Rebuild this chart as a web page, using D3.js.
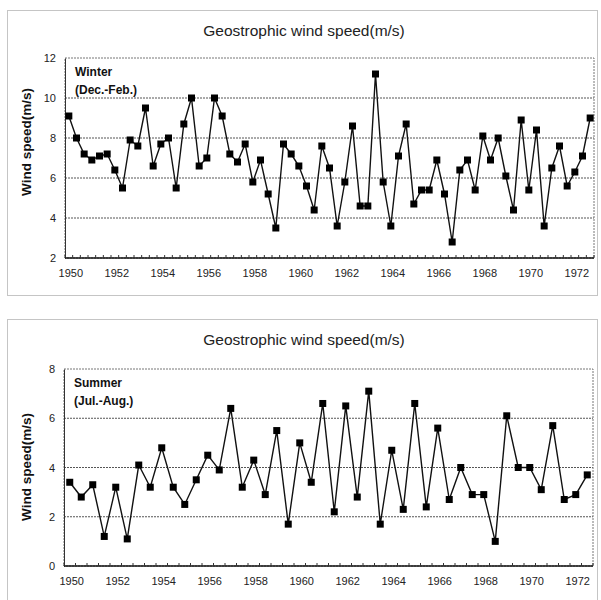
<!DOCTYPE html>
<html>
<head>
<meta charset="utf-8">
<script src="https://cdn.jsdelivr.net/npm/d3@7"></script>
<style>
  body { margin: 0; background: #fff; }
  svg { display: block; font-family: 'Liberation Sans', Arial, sans-serif; }
</style>
</head>
<body>
<div id="chart"></div>
<script>
// winter: 3 values per year (Dec, Jan, Feb), 1950-1972
const winterSpeed = [
  9.1, 8.0, 7.2, 6.9, 7.1, 7.2, 6.4, 5.5, 7.9, 7.6,
  9.5, 6.6, 7.7, 8.0, 5.5, 8.7, 10.0, 6.6, 7.0, 10.0,
  9.1, 7.2, 6.8, 7.7, 5.8, 6.9, 5.2, 3.5, 7.7, 7.2,
  6.6, 5.6, 4.4, 7.6, 6.5, 3.6, 5.8, 8.6, 4.6, 4.6,
  11.2, 5.8, 3.6, 7.1, 8.7, 4.7, 5.4, 5.4, 6.9, 5.2,
  2.8, 6.4, 6.9, 5.4, 8.1, 6.9, 8.0, 6.1, 4.4, 8.9,
  5.4, 8.4, 3.6, 6.5, 7.6, 5.6, 6.3, 7.1, 9.0
];
// summer: 2 values per year (Jul, Aug), 1950-1972
const summerSpeed = [
  3.4, 2.8, 3.3, 1.2, 3.2, 1.1, 4.1, 3.2, 4.8, 3.2,
  2.5, 3.5, 4.5, 3.9, 6.4, 3.2, 4.3, 2.9, 5.5, 1.7,
  5.0, 3.4, 6.6, 2.2, 6.5, 2.8, 7.1, 1.7, 4.7, 2.3,
  6.6, 2.4, 5.6, 2.7, 4.0, 2.9, 2.9, 1.0, 6.1, 4.0,
  4.0, 3.1, 5.7, 2.7, 2.9, 3.7
];
const yearLabels = ['1950', '1952', '1954', '1956', '1958', '1960',
  '1962', '1964', '1966', '1968', '1970', '1972'];
const winterTicks = [2, 4, 6, 8, 10, 12];
const summerTicks = [0, 2, 4, 6, 8];
const titleText = 'Geostrophic wind speed(m/s)';
const yTitle = 'Wind speed(m/s)';

const svg = d3.select('#chart').append('svg')
  .attr('width', 601)
  .attr('height', 600);

svg.append('rect').attr('width', 601).attr('height', 600).attr('fill', '#fff');

const drawPanel = (cfg) => {
  const { box, plot, values, perYear, ticks, season } = cfg;

  // outer frame of the panel
  svg.append('rect')
    .attr('x', box.x).attr('y', box.y)
    .attr('width', box.w).attr('height', box.h)
    .attr('fill', 'none')
    .attr('stroke', '#8a8a8a')
    .attr('stroke-dasharray', '1,1');

  svg.append('text')
    .attr('x', 304).attr('y', box.y + 25)
    .attr('text-anchor', 'middle')
    .attr('font-size', 15.5)
    .attr('fill', '#222')
    .text(titleText);

  const x = d3.scalePoint()
    .domain(d3.range(values.length))
    .range([plot.x0, plot.x1])
    .padding(0.5);

  const y = d3.scaleLinear()
    .domain(d3.extent(ticks))
    .range([plot.y1, plot.y0]);

  const g = svg.append('g');

  // gridlines
  g.selectAll('.grid')
    .data(ticks.slice(1, -1))
    .enter().append('line')
    .attr('x1', plot.x0).attr('x2', plot.x1)
    .attr('y1', d => y(d)).attr('y2', d => y(d))
    .attr('stroke', '#555')
    .attr('stroke-dasharray', '2,1');

  // plot border
  g.append('rect')
    .attr('x', plot.x0).attr('y', plot.y0)
    .attr('width', plot.x1 - plot.x0).attr('height', plot.y1 - plot.y0)
    .attr('fill', 'none')
    .attr('stroke', '#777')
    .attr('stroke-dasharray', '2,1');

  // left axis
  g.append('g')
    .attr('transform', `translate(${plot.x0},0)`)
    .call(d3.axisLeft(y).tickValues(ticks).tickSize(0).tickPadding(9))
    .call(a => a.select('.domain').attr('stroke', '#333'))
    .selectAll('text')
    .attr('font-size', 11)
    .attr('font-family', "'Liberation Sans', Arial, sans-serif")
    .attr('fill', '#222');

  // bottom axis line with small ticks at each category boundary
  const step = x.step();
  g.append('line')
    .attr('x1', plot.x0).attr('x2', plot.x1)
    .attr('y1', plot.y1).attr('y2', plot.y1)
    .attr('stroke', '#111')
    .attr('stroke-width', 1.5);
  g.selectAll('.minor')
    .data(d3.range(values.length + 1))
    .enter().append('line')
    .attr('x1', d => plot.x0 + d * step).attr('x2', d => plot.x0 + d * step)
    .attr('y1', plot.y1).attr('y2', plot.y1 - 3)
    .attr('stroke', '#333');

  // year labels every 2 years
  g.selectAll('.xlab')
    .data(yearLabels)
    .enter().append('text')
    .attr('x', (d, i) => x(i * 2 * perYear) + 2)
    .attr('y', plot.y1 + 19)
    .attr('text-anchor', 'middle')
    .attr('font-size', 11)
    .attr('fill', '#222')
    .text(d => d);

  // axis title
  svg.append('text')
    .attr('transform', `translate(${31},${cfg.yTitleY}) rotate(-90)`)
    .attr('text-anchor', 'middle')
    .attr('font-size', 13.5)
    .attr('font-weight', 'bold')
    .attr('fill', '#111')
    .text(yTitle);

  // season label
  season.forEach((s, i) => {
    svg.append('text')
      .attr('x', plot.x0 + 10)
      .attr('y', plot.y0 + 18 + i * 18)
      .attr('font-size', 12)
      .attr('font-weight', 'bold')
      .attr('fill', '#111')
      .text(s);
  });

  const line = d3.line()
    .x((d, i) => x(i))
    .y(d => y(d));

  g.append('path')
    .datum(values)
    .attr('d', line)
    .attr('fill', 'none')
    .attr('stroke', '#111')
    .attr('stroke-width', 1.4);

  g.selectAll('.dot')
    .data(values)
    .enter().append('rect')
    .attr('x', (d, i) => x(i) - 3.5)
    .attr('y', d => y(d) - 3.5)
    .attr('width', 7)
    .attr('height', 7)
    .attr('fill', '#000');
};

drawPanel({
  box: { x: 7.5, y: 10.5, w: 590, h: 285 },
  plot: { x0: 65, x1: 594, y0: 58, y1: 258 },
  values: winterSpeed,
  perYear: 3,
  ticks: winterTicks,
  season: ['Winter', '(Dec.-Feb.)'],
  yTitleY: 142,
});

drawPanel({
  box: { x: 7.5, y: 319.5, w: 590, h: 290 },
  plot: { x0: 64, x1: 593, y0: 369, y1: 566 },
  values: summerSpeed,
  perYear: 2,
  ticks: summerTicks,
  season: ['Summer', '(Jul.-Aug.)'],
  yTitleY: 467,
});
</script>
</body>
</html>
